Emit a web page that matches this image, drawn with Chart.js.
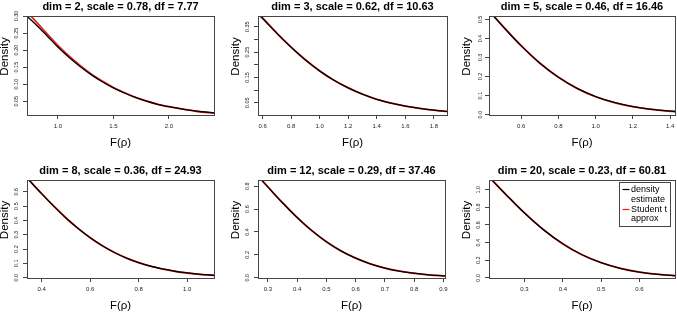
<!DOCTYPE html>
<html>
<head>
<meta charset="utf-8">
<script src="https://cdn.jsdelivr.net/npm/chart.js@4.4.1/dist/chart.umd.min.js"></script>
<style>
  html, body { margin: 0; padding: 0; background: #fff; }
  body { width: 677px; height: 319px; position: relative; overflow: hidden; }
  canvas { position: absolute; }
</style>
</head>
<body>
<script>
// panel headers
const dims = [2, 3, 5, 8, 12, 20];
const scaleVals = [0.78, 0.62, 0.46, 0.36, 0.29, 0.23];
const dfs = [7.77, 10.63, 16.46, 24.93, 37.46, 60.81];
const legendLabels = ['density estimate', 'Student t approx'];

// dim = 2
const dim2X   = [0.72, 0.80, 0.90, 1.00, 1.10, 1.20, 1.30, 1.40, 1.50, 1.60, 1.70, 1.80, 1.90, 2.00, 2.10, 2.20, 2.30, 2.41];
const dim2Est = [0.300, 0.276, 0.243, 0.209, 0.179, 0.152, 0.128, 0.107, 0.089, 0.074, 0.061, 0.050, 0.041, 0.034, 0.028, 0.023, 0.019, 0.016];
const dim2T   = [0.312, 0.285, 0.249, 0.214, 0.183, 0.155, 0.130, 0.109, 0.090, 0.075, 0.061, 0.050, 0.041, 0.034, 0.028, 0.023, 0.018, 0.015];
const dim2XTicks = [1.0, 1.5, 2.0];
const dim2XLabels = ['1.0', '1.5', '2.0'];
const dim2YTicks = [0.05, 0.10, 0.15, 0.20, 0.25, 0.30];
const dim2YLabels = ['0.05', '0.10', '0.15', '0.20', '0.25', '0.30'];

// dim = 3
const dim3X   = [0.56, 0.60, 0.70, 0.80, 0.90, 1.00, 1.10, 1.20, 1.30, 1.40, 1.50, 1.60, 1.70, 1.80, 1.90];
const dim3Est = [0.405, 0.383, 0.324, 0.269, 0.219, 0.176, 0.139, 0.109, 0.084, 0.064, 0.049, 0.037, 0.028, 0.021, 0.016];
const dim3T   = [0.408, 0.385, 0.325, 0.270, 0.220, 0.176, 0.139, 0.109, 0.084, 0.064, 0.049, 0.037, 0.028, 0.021, 0.016];
const dim3XTicks = [0.6, 0.8, 1.0, 1.2, 1.4, 1.6, 1.8];
const dim3XLabels = ['0.6', '0.8', '1.0', '1.2', '1.4', '1.6', '1.8'];
const dim3YTicks = [0.05, 0.10, 0.15, 0.20, 0.25, 0.30, 0.35];
const dim3YLabels = ['0.05', '', '0.15', '', '0.25', '', '0.35'];

// dim = 5
const dim5X   = [0.42, 0.50, 0.60, 0.70, 0.80, 0.90, 1.00, 1.10, 1.20, 1.30, 1.43];
const dim5Est = [0.552, 0.465, 0.361, 0.270, 0.196, 0.138, 0.095, 0.064, 0.042, 0.027, 0.016];
const dim5T   = [0.555, 0.466, 0.362, 0.271, 0.196, 0.138, 0.094, 0.063, 0.042, 0.027, 0.015];
const dim5XTicks = [0.6, 0.8, 1.0, 1.2, 1.4];
const dim5XLabels = ['0.6', '0.8', '1.0', '1.2', '1.4'];
const dim5YTicks = [0.0, 0.1, 0.2, 0.3, 0.4, 0.5];
const dim5YLabels = ['0.0', '0.1', '0.2', '0.3', '0.4', '0.5'];

// dim = 8
const dim8X   = [0.33, 0.40, 0.45, 0.50, 0.55, 0.60, 0.65, 0.70, 0.75, 0.80, 0.85, 0.90, 0.95, 1.00, 1.05, 1.12];
const dim8Est = [0.712, 0.585, 0.498, 0.417, 0.344, 0.279, 0.223, 0.176, 0.137, 0.106, 0.080, 0.061, 0.045, 0.034, 0.025, 0.016];
const dim8T   = [0.714, 0.586, 0.499, 0.417, 0.344, 0.279, 0.223, 0.176, 0.137, 0.105, 0.080, 0.060, 0.045, 0.033, 0.024, 0.016];
const dim8XTicks = [0.4, 0.6, 0.8, 1.0];
const dim8XLabels = ['0.4', '0.6', '0.8', '1.0'];
const dim8YTicks = [0.0, 0.1, 0.2, 0.3, 0.4, 0.5, 0.6];
const dim8YLabels = ['0.0', '0.1', '0.2', '0.3', '0.4', '0.5', '0.6'];

// dim = 12
const dim12X   = [0.26, 0.30, 0.35, 0.40, 0.45, 0.50, 0.55, 0.60, 0.65, 0.70, 0.75, 0.80, 0.85, 0.91];
const dim12Est = [0.905, 0.794, 0.655, 0.527, 0.412, 0.315, 0.235, 0.171, 0.122, 0.085, 0.058, 0.040, 0.026, 0.016];
const dim12T   = [0.908, 0.795, 0.656, 0.527, 0.412, 0.315, 0.234, 0.171, 0.121, 0.085, 0.058, 0.039, 0.026, 0.015];
const dim12XTicks = [0.3, 0.4, 0.5, 0.6, 0.7, 0.8, 0.9];
const dim12XLabels = ['0.3', '0.4', '0.5', '0.6', '0.7', '0.8', '0.9'];
const dim12YTicks = [0.0, 0.2, 0.4, 0.6, 0.8];
const dim12YLabels = ['0.0', '0.2', '0.4', '0.6', '0.8'];

// dim = 20
const dim20X   = [0.20, 0.25, 0.30, 0.35, 0.40, 0.45, 0.50, 0.55, 0.60, 0.65, 0.70];
const dim20Est = [1.175, 0.952, 0.735, 0.544, 0.386, 0.262, 0.172, 0.108, 0.065, 0.038, 0.022];
const dim20T   = [1.179, 0.953, 0.736, 0.544, 0.385, 0.262, 0.171, 0.107, 0.065, 0.038, 0.022];
const dim20XTicks = [0.3, 0.4, 0.5, 0.6];
const dim20XLabels = ['0.3', '0.4', '0.5', '0.6'];
const dim20YTicks = [0.0, 0.2, 0.4, 0.6, 0.8, 1.0];
const dim20YLabels = ['0.0', '0.2', '0.4', '0.6', '0.8', '1.0'];

const FONT = '"Liberation Sans", Arial, Helvetica, sans-serif';
Chart.defaults.font.family = FONT;
Chart.defaults.color = '#000';

// plot boxes in page pixels + axis limits
const panels = [
  { x: dim2X, est: dim2Est, t: dim2T, xt: dim2XTicks, xl: dim2XLabels, yt: dim2YTicks, yl: dim2YLabels,
    xr: [0.7225, 2.407], yr: [0.0095, 0.300], box: { l: 27, t: 16, r: 214, b: 115 }, off: 11 },
  { x: dim3X, est: dim3Est, t: dim3T, xt: dim3XTicks, xl: dim3XLabels, yt: dim3YTicks, yl: dim3YLabels,
    xr: [0.568, 1.892], yr: [0.002, 0.3926], box: { l: 258, t: 16, r: 447, b: 115 }, off: 11 },
  { x: dim5X, est: dim5Est, t: dim5T, xt: dim5XTicks, xl: dim5XLabels, yt: dim5YTicks, yl: dim5YLabels,
    xr: [0.427, 1.426], yr: [-0.002, 0.518], box: { l: 489, t: 16, r: 675, b: 115 }, off: 9 },
  { x: dim8X, est: dim8Est, t: dim8T, xt: dim8XTicks, xl: dim8XLabels, yt: dim8YTicks, yl: dim8YLabels,
    xr: [0.339, 1.111], yr: [-0.002, 0.682], box: { l: 27, t: 180, r: 214, b: 278 }, off: 10.5 },
  { x: dim12X, est: dim12Est, t: dim12T, xt: dim12XTicks, xl: dim12XLabels, yt: dim12YTicks, yl: dim12YLabels,
    xr: [0.2665, 0.905], yr: [-0.002, 0.854], box: { l: 258, t: 180, r: 445, b: 278 }, off: 10.5 },
  { x: dim20X, est: dim20Est, t: dim20T, xt: dim20XTicks, xl: dim20XLabels, yt: dim20YTicks, yl: dim20YLabels,
    xr: [0.2074, 0.6926], yr: [-0.002, 1.11], box: { l: 489, t: 180, r: 675, b: 278 }, off: 10.5, legend: true }
];

const AXIS_W = 30, TITLE_H = 20, XAXIS_H = 40, PAD_R = 12;

// frame box, rotated y labels, "Density" and the legend
const framePlugin = {
  id: 'frame',
  afterDraw(chart, args, opts) {
    const { ctx, chartArea: a } = chart;
    const y = chart.scales.y;
    ctx.save();
    ctx.strokeStyle = '#444';
    ctx.lineWidth = 1;
    ctx.strokeRect(a.left + 0.5, a.top + 0.5, a.right - a.left, a.bottom - a.top);

    ctx.fillStyle = '#222';
    ctx.font = `5.5px ${FONT}`;
    ctx.textAlign = 'center';
    ctx.textBaseline = 'middle';
    y.ticks.forEach(tk => {
      if (!tk.label) return;
      ctx.save();
      ctx.translate(a.left - opts.off, y.getPixelForValue(tk.value));
      ctx.rotate(-Math.PI / 2);
      ctx.fillText(tk.label, 0, 0);
      ctx.restore();
    });

    ctx.fillStyle = '#000';
    ctx.font = `11.5px ${FONT}`;
    ctx.save();
    ctx.translate(a.left - 22, (a.top + a.bottom) / 2 - 9);
    ctx.rotate(-Math.PI / 2);
    ctx.fillText('Density', 0, 0);
    ctx.restore();

    if (opts.legend) {
      const lx = a.right - 56, ly = a.top + 2, lw = 51, lh = 44;
      ctx.fillStyle = '#fff';
      ctx.fillRect(lx, ly, lw, lh);
      ctx.strokeStyle = '#444';
      ctx.strokeRect(Math.round(lx) + 0.5, Math.round(ly) + 0.5, lw, lh);
      const rows = [7.5, 17.5, 27.5, 37];
      // each label wraps onto two lines
      const lines = [
        [legendLabels[0].split(' ')[0], legendLabels[0].split(' ')[1]],
        [legendLabels[1].slice(0, legendLabels[1].lastIndexOf(' ')), legendLabels[1].split(' ').pop()]
      ];
      ctx.font = `9px ${FONT}`;
      ctx.textAlign = 'left';
      ctx.fillStyle = '#000';
      chart.data.datasets.forEach((ds, i) => {
        const yy = ly + rows[i * 2];
        ctx.strokeStyle = ds.borderColor;
        ctx.lineWidth = 1.2;
        ctx.beginPath();
        ctx.moveTo(lx + 3.5, yy);
        ctx.lineTo(lx + 10.5, yy);
        ctx.stroke();
        ctx.fillText(lines[i][0], lx + 12, yy);
        ctx.fillText(lines[i][1], lx + 12, ly + rows[i * 2 + 1]);
      });
    }
    ctx.restore();
  }
};

panels.forEach((p, i) => {
  const b = p.box;
  const canvas = document.createElement('canvas');
  const w = (b.r - b.l) + AXIS_W + PAD_R;
  const h = (b.b - b.t) + TITLE_H + XAXIS_H;
  canvas.width = w;
  canvas.height = h;
  canvas.style.left = (b.l - AXIS_W) + 'px';
  canvas.style.top = (b.t - TITLE_H) + 'px';
  canvas.style.width = w + 'px';
  canvas.style.height = h + 'px';
  document.body.appendChild(canvas);

  new Chart(canvas, {
    type: 'line',
    data: {
      datasets: [
        {
          label: legendLabels[0],
          data: p.x.map((x, k) => ({ x, y: p.est[k] })),
          borderColor: '#000',
          borderWidth: 1.3,
          pointRadius: 0,
          cubicInterpolationMode: 'monotone'
        },
        {
          label: legendLabels[1],
          data: p.x.map((x, k) => ({ x, y: p.t[k] })),
          borderColor: '#e8221f',
          borderWidth: 1.8,
          pointRadius: 0,
          cubicInterpolationMode: 'monotone'
        }
      ]
    },
    options: {
      responsive: false,
      animation: false,
      events: [],
      layout: { padding: { left: 0, top: 0, right: PAD_R, bottom: 0 } },
      plugins: {
        legend: { display: false },
        tooltip: { enabled: false },
        title: {
          display: true,
          fullSize: false,
          text: `dim = ${dims[i]}, scale = ${scaleVals[i].toFixed(2)}, df = ${dfs[i].toFixed(2)}`,
          font: { size: 11, weight: 'bold', lineHeight: 1.2 },
          color: '#000',
          padding: { top: 4.2, bottom: 2.6 }
        },
        frame: { off: p.off, legend: !!p.legend }
      },
      scales: {
        x: {
          type: 'linear',
          min: p.xr[0],
          max: p.xr[1],
          afterBuildTicks: s => { s.ticks = p.xt.map(v => ({ value: v })); },
          afterFit: s => { s.height = XAXIS_H; },
          grid: { drawOnChartArea: false, drawTicks: true, tickLength: 4, color: '#444' },
          border: { display: false },
          ticks: {
            autoSkip: false,
            maxRotation: 0,
            padding: 4,
            color: '#222',
            font: { size: 6 },
            callback: (v, k) => p.xl[k]
          },
          title: {
            display: true,
            text: 'F(ρ)',
            font: { size: 11.5, lineHeight: 1.2 },
            color: '#000',
            padding: { top: 0, bottom: 5.1 }
          }
        },
        y: {
          type: 'linear',
          min: p.yr[0],
          max: p.yr[1],
          afterBuildTicks: s => { s.ticks = p.yt.map(v => ({ value: v })); },
          afterFit: s => { s.width = AXIS_W; },
          grid: { drawOnChartArea: false, drawTicks: true, tickLength: 4, color: '#444' },
          border: { display: false },
          ticks: { display: false, callback: (v, k) => p.yl[k] }
        }
      }
    },
    plugins: [framePlugin]
  });
});
</script>
</body>
</html>
